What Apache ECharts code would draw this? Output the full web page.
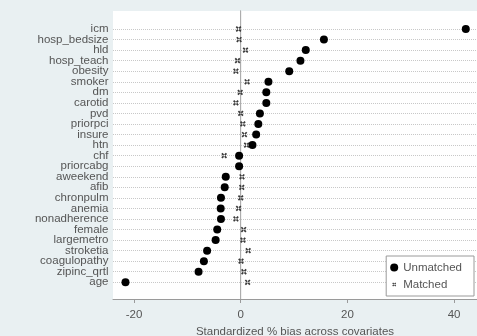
<!DOCTYPE html>
<html>
<head>
<meta charset="utf-8">
<script src="https://cdn.jsdelivr.net/npm/echarts@6/dist/echarts.min.js"></script>
<style>
html,body{margin:0;padding:0;background:#e9f0f2;}
#c{width:477px;height:336px;}
</style>
</head>
<body>
<div id="c"></div>
<script>
const covariates = ['icm','hosp_bedsize','hld','hosp_teach','obesity','smoker','dm','carotid','pvd','priorpci','insure','htn','chf','priorcabg','aweekend','afib','chronpulm','anemia','nonadherence','female','largemetro','stroketia','coagulopathy','zipinc_qrtl','age'];
const unmatched = [42.2,15.6,12.2,11.2,9.1,5.2,4.8,4.8,3.6,3.3,2.9,2.2,-0.3,-0.3,-2.8,-3.0,-3.7,-3.75,-3.7,-4.4,-4.7,-6.3,-6.9,-7.9,-21.6];
const matched = [-0.4,-0.3,0.9,-0.6,-0.9,1.2,-0.1,-0.9,0.0,0.4,0.7,1.1,-3.1,-0.2,0.24,0.2,0.0,-0.4,-0.9,0.55,0.43,1.4,0.06,0.6,1.3];
const xTicks = [-20, 0, 20, 40];
const zeroLine = [[0, 0], [0, 1]];
const xTitle = 'Standardized % bias across covariates';

const XMIN = -23.94, XMAX = 44.3;
const font = '"Liberation Sans", Arial, sans-serif';
const xPath = 'path://M0,0L0,0.001L0.001,0ZM10,10L10,9.999L9.999,10ZM2.6,3.6L3.6,2.6L7.4,6.4L6.4,7.4ZM7.4,3.6L6.4,2.6L2.6,6.4L3.6,7.4Z';

const chart = echarts.init(document.getElementById('c'), null, {renderer:'canvas'});
chart.setOption({
  backgroundColor: '#e9f0f2',
  animation: false,
  textStyle: {fontFamily: font},
  grid: [
    {left: 113, right: 0, top: 11, bottom: 37, show: true, backgroundColor: '#ffffff', borderWidth: 0, z: -1,
     containLabel: false, outerBoundsMode: 'none'},
    {left: 113, right: 0, top: 29, bottom: 53.7, containLabel: false, outerBoundsMode: 'none'}
  ],
  xAxis: [
    {
      type: 'value', gridIndex: 0, min: XMIN, max: XMAX,
      axisLine: {show: true, lineStyle: {color: '#9a9a9a', width: 1}},
      axisTick: {show: true, length: 4, customValues: xTicks, lineStyle: {color: '#9a9a9a'}},
      axisLabel: {customValues: xTicks, margin: 10, fontSize: 11.5, color: '#555', fontFamily: font},
      splitLine: {show: false},
      name: xTitle, nameLocation: 'middle', nameGap: 20,
      nameTextStyle: {fontSize: 11.5, color: '#555', fontFamily: font}
    },
    {type: 'value', gridIndex: 1, min: XMIN, max: XMAX, show: false}
  ],
  yAxis: [
    {
      type: 'value', gridIndex: 0, min: 0, max: 1,
      axisLine: {show: true, lineStyle: {color: '#808080', width: 1}},
      axisTick: {show: false}, axisLabel: {show: false}, splitLine: {show: false}
    },
    {
      type: 'category', gridIndex: 1, data: covariates, inverse: true, boundaryGap: false, z: 2,
      axisLine: {show: false}, axisTick: {show: false},
      axisLabel: {interval: 0, margin: 4.5, fontSize: 11.5, color: '#555', fontFamily: font},
      splitLine: {show: true, interval: 0, lineStyle: {color: '#c8c8c8', type: 'dotted', width: 1}}
    }
  ],
  legend: {
    orient: 'vertical', right: 3, bottom: 40,
    backgroundColor: '#ffffff', borderColor: '#9a9a9a', borderWidth: 1,
    padding: [5, 12, 5, 4], itemGap: 4, itemWidth: 8, itemHeight: 8,
    textStyle: {fontSize: 11.5, color: '#555', lineHeight: 13, fontFamily: font},
    data: [
      {name: 'Unmatched', icon: 'circle'},
      {name: 'Matched', icon: xPath}
    ]
  },
  series: [
    {
      type: 'line', xAxisIndex: 0, yAxisIndex: 0, data: zeroLine, silent: true,
      symbol: 'none', lineStyle: {color: '#b8b8b8', width: 1}, z: 1
    },
    {
      name: 'Matched', type: 'scatter', xAxisIndex: 1, yAxisIndex: 1,
      symbol: xPath, symbolSize: 12,
      itemStyle: {color: '#3a3a3a', opacity: 1},
      data: matched.map((v, i) => [v, covariates[i]]), z: 3
    },
    {
      name: 'Unmatched', type: 'scatter', xAxisIndex: 1, yAxisIndex: 1,
      symbol: 'circle', symbolSize: 8,
      itemStyle: {color: '#000000', opacity: 1},
      data: unmatched.map((v, i) => [v, covariates[i]]), z: 4
    }
  ]
});
</script>
</body>
</html>
